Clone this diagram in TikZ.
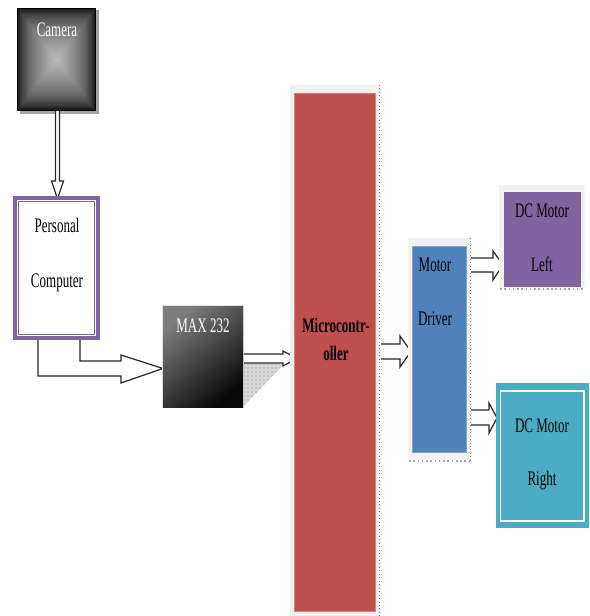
\documentclass[tikz,border=0pt]{standalone}
\usepackage{fontspec}
\setmainfont{Liberation Serif}
\newfontfamily\condf[FakeStretch=0.63]{Liberation Serif}
\usetikzlibrary{patterns}
\definecolor{pcpurple}{HTML}{8064A2}
\definecolor{mcured}{HTML}{C0504D}
\definecolor{drvblue}{HTML}{4F81BD}
\definecolor{teal2}{HTML}{4BACC6}
\definecolor{bggray}{HTML}{F2F2F2}
\tikzset{
  lbl/.style={font=\condf\fontsize{15.5}{18}\selectfont, inner sep=0pt, anchor=base},
  lblb/.style={font=\condf\bfseries\fontsize{15.5}{18}\selectfont, inner sep=0pt, anchor=base},
  blockarrow/.style={draw=black!85, fill=white, line width=0.9pt, line join=miter},
  dotline/.style={draw=gray, dotted, line width=0.6pt}
}
\begin{document}
\begin{tikzpicture}[x=0.75pt,y=-0.75pt]
\useasboundingbox (0,0) rectangle (589,616);
% ---------- Camera ----------
\fill[gray!70] (19.5,10.5) rectangle (99,114);
\foreach \i in {0,...,40}{
  \pgfmathsetmacro\bk{100-72*sqrt(\i/40)}
  \fill[black!\bk!white] (17+\i*0.95, 8+\i*1.25) rectangle (96-\i*0.95, 111-\i*1.25);
}
\node[draw=none, minimum width=79*0.75pt, minimum height=103*0.75pt] (cam) at (56.5,59.5) {};
\node[lbl, text=white] (camt) at (57,37) {Camera};
% ---------- arrow camera -> PC ----------
\draw[blockarrow] (55.5,111) -- (55.5,181) -- (51.5,181) -- (57.5,199) -- (63.5,181) -- (59.5,181) -- (59.5,111);
% ---------- PC -> MAX bent arrow ----------
\draw[blockarrow] (38,340) -- (38,376) -- (121,376) -- (121,383) -- (163,368.5) -- (121,355) -- (121,361) -- (80,361) -- (80,340);
% ---------- Personal Computer ----------
\node[draw=pcpurple, line width=3pt, fill=white, minimum width=83*0.75pt, minimum height=140*0.75pt, inner sep=0pt] (pc) at (56.5,268) {};
\draw[pcpurple, line width=0.8pt] (18.5,201.5) rectangle (94.5,334.5);
\node[lbl] at (57,233) {Personal};
\node[lbl] at (57,287) {Computer};
% ---------- MAX 232 ----------
\fill[gray!30] (244,364) -- (284,364) -- (244,406) -- cycle;
\fill[pattern=dots, pattern color=black!55] (244,364) -- (284,364) -- (244,406) -- cycle;
\draw[blockarrow] (243,354) -- (283,354) -- (283,351) -- (297,358.5) -- (283,366) -- (283,363) -- (243,363);
\fill[gray!25] (162,305) rectangle (244,408);
\shade[top color={rgb,255:red,125;green,125;blue,125}, bottom color={rgb,255:red,8;green,8;blue,8}, shading angle=40] (163,306) rectangle (243,407);
\node[minimum width=80*0.75pt, minimum height=101*0.75pt] (max) at (203,356.5) {};
\node[lbl, text=white] at (203,332) {MAX 232};
% ---------- Microcontroller ----------
\fill[bggray] (290,85) rectangle (379,616);
\node[fill=mcured, draw=mcured!70!white, line width=0.5pt, minimum width=81*0.75pt, minimum height=518*0.75pt, inner sep=0pt] (mcu) at (334.5,352) {};
\draw[dotline] (379,85) -- (379,616);
\node[lblb] at (336,332) {Microcontr-};
\node[lblb] at (336,360) {oller};
% ---------- arrow MCU -> driver ----------
\draw[blockarrow] (381,344) -- (400,344) -- (400,336) -- (411,351.5) -- (400,367) -- (400,359) -- (381,359);
% ---------- Motor Driver ----------
\fill[bggray] (408,238) rectangle (470,460);
\node[fill=drvblue, draw=drvblue!70!white, line width=0.5pt, minimum width=54*0.75pt, minimum height=206*0.75pt, inner sep=0pt] (drv) at (439,349) {};
\draw[dotline] (470,238) -- (470,461);
\draw[gray!70, dotted, line width=1.2pt] (409,461) -- (470,461);
\node[lbl] at (435,272) {Motor};
\node[lbl] at (435,325) {Driver};
% ---------- arrows driver -> motors ----------
\draw[blockarrow] (471,258) -- (493,258) -- (493,251) -- (503,265) -- (493,280) -- (493,272) -- (471,272);
\draw[blockarrow] (471,410) -- (489,410) -- (489,403) -- (497,418) -- (489,433) -- (489,425) -- (471,425);
% ---------- DC Motor Left ----------
\fill[bggray] (499,185) rectangle (585,288);
\node[fill=pcpurple, minimum width=77*0.75pt, minimum height=95*0.75pt, inner sep=0pt] (dcl) at (542.5,239.5) {};
\draw[gray!70, dotted, line width=1.2pt] (500,289) -- (584,289);
\node[lbl] at (542,218) {DC Motor};
\node[lbl] at (542,272) {Left};
% ---------- DC Motor Right ----------
\node[fill=teal2, minimum width=93*0.75pt, minimum height=145*0.75pt, inner sep=0pt] (dcr) at (542.5,455.5) {};
\draw[white, line width=1.3pt] (500.5,391) rectangle (584,521);
\node[lbl] at (542,432) {DC Motor};
\node[lbl] at (542,485) {Right};
\end{tikzpicture}
\end{document}
